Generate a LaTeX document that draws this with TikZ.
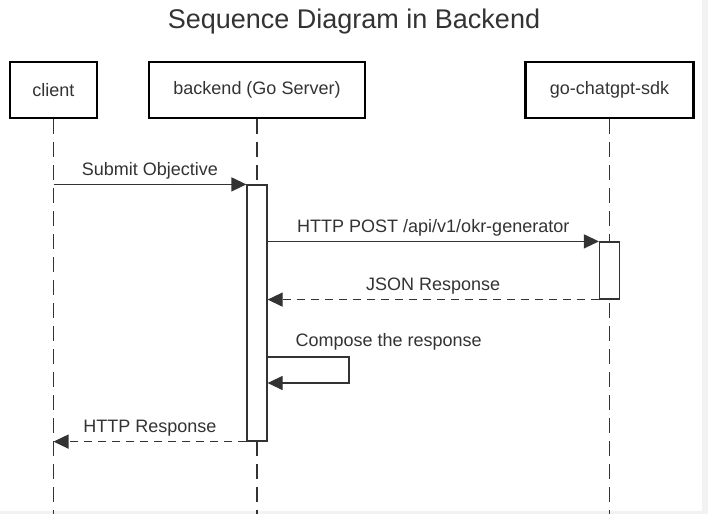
\documentclass[tikz,border=0pt]{standalone}
\usepackage{fontspec}
\setmainfont{Liberation Sans}
\usetikzlibrary{arrows.meta}
\definecolor{ink}{HTML}{333333}
\tikzset{
  actor/.style={draw=black, line width=2.6pt, text=ink, font=\fontsize{18}{22}\selectfont},
  actbox/.style={draw=ink, line width=1.2pt, fill=white, minimum width=20pt},
  lifeline/.style={draw=ink, line width=1.6pt, dash pattern=on 15pt off 8pt},
  msg/.style={draw=ink, line width=1.2pt, -{Triangle[length=15pt,width=14pt]}},
  reply/.style={msg, dash pattern=on 8pt off 6pt},
  lbl/.style={text=ink, font=\fontsize{18}{22}\selectfont}
}
\begin{document}
\begin{tikzpicture}[x=1pt, y=-1pt]
\fill[black!5] (0,0) rectangle (708,514);
\fill[white] (0,0) rectangle (702,511);
\useasboundingbox (0,0) rectangle (708,514);
\node[text=ink, font=\fontsize{27}{32}\selectfont] (title) at (354,22) {Sequence Diagram in Backend};
\node[actor, minimum width=87pt, minimum height=56pt] (client) at (53.5,90) {client};
\node[actor, minimum width=216pt, minimum height=56pt] (backend) at (257,90) {backend (Go Server)};
\node[actor, minimum width=168pt, minimum height=56pt] (sdk) at (609.5,90) {go-chatgpt-sdk};
\coordinate (clientEnd) at (53.5,514);
\coordinate (backendEnd) at (257,514);
\coordinate (sdkEnd) at (609.5,514);
\draw[lifeline] (client.south) -- (clientEnd);
\draw[lifeline] (backend.south) -- (backendEnd);
\draw[lifeline] (sdk.south) -- (sdkEnd);
\node[actbox, minimum height=256pt] (actB) at (257,313) {};
\node[actbox, minimum height=57pt] (actS) at (609.5,270.5) {};
\coordinate (rowSelfA) at (0,357);
\coordinate (rowSelfB) at (0,383);
\coordinate (selfA) at (349,357);
\coordinate (selfB) at (349,383);
\draw[msg] (client.south |- actB.north west) -- node[lbl, above=1pt] {Submit Objective} (actB.north west);
\draw[msg] (actB.east |- actS.north west) -- node[lbl, above=1pt] {HTTP POST /api/v1/okr-generator} (actS.north west);
\draw[reply] (actS.south west) -- node[lbl, above=1pt] {JSON Response} (actB.east |- actS.south west);
\draw[msg] (actB.east |- rowSelfA) -- (selfA) -- (selfB) -- (actB.east |- rowSelfB);
\node[lbl, anchor=west] (compose) at (292,342) {Compose the response};
\draw[reply] (actB.south west) -- node[lbl, above=1pt] {HTTP Response} (client.south |- actB.south west);
\end{tikzpicture}
\end{document}
